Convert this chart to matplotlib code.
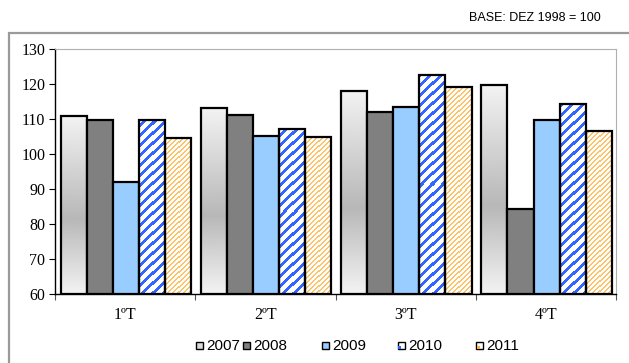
import numpy as np
import matplotlib
matplotlib.use("Agg")
import matplotlib.pyplot as plt
from matplotlib.patches import Rectangle

quarters = ["1ºT", "2ºT", "3ºT", "4ºT"]
years = ["2007", "2008", "2009", "2010", "2011"]
v2007 = [110.9, 113.1, 118.1, 119.6]
v2008 = [109.8, 111.1, 112.0, 84.3]
v2009 = [92.0, 105.2, 113.5, 109.7]
v2010 = [109.8, 107.1, 122.5, 114.2]
v2011 = [104.5, 105.0, 119.1, 106.5]
series = [v2007, v2008, v2009, v2010, v2011]
y_ticks = [60, 70, 80, 90, 100, 110, 120, 130]

serif = "Liberation Serif"
sans = "Liberation Sans"
plt.rcParams["font.family"] = [serif, "DejaVu Serif"]

W, H = 629, 363
fig = plt.figure(figsize=(W / 100, H / 100), dpi=100)

# outer chart frame (runs past the right/bottom edge of the image)
fig.patches.append(Rectangle((9 / W, -0.05), 625 / W, (H - 33 + 18) / H,
                             transform=fig.transFigure, fill=False,
                             edgecolor="#9a9a9a", linewidth=1.6))

ax = fig.add_axes([55 / W, (H - 294.3) / H, (616 - 55) / W, 245.3 / H])
ax.set_xlim(0, 4)
ax.set_ylim(60, 130)

ax.set_yticks(y_ticks)
ax.set_yticklabels([str(t) for t in y_ticks])
ax.set_xticks([0, 1, 2, 3, 4])
ax.set_xticklabels([])
ax.set_xticks([0.5, 1.5, 2.5, 3.5], minor=True)
ax.set_xticklabels(quarters, minor=True)
ax.tick_params(axis="both", which="both", labelsize=11.5)
ax.tick_params(axis="x", which="minor", length=0, pad=9)
ax.tick_params(axis="x", which="major", length=4, width=0.8, color="#555555")
ax.tick_params(axis="y", length=4, width=0.8, pad=3)
for s in ("top", "right"):
    ax.spines[s].set_color("#b0b0b0")
    ax.spines[s].set_linewidth(0.8)
for s in ("left", "bottom"):
    ax.spines[s].set_color("black")
    ax.spines[s].set_linewidth(1.0)

bar_w = 0.186
start = 0.04
px_per_x = (616 - 55) / 4.0
px_per_y = 245.3 / 70.0


def gradient_fill(x0, top):
    n = max(int(round((top - 60) * px_per_y)), 2)
    t = np.linspace(0, 1, n)[:, None]
    light, dark, mid = 0.95, 0.72, 0.58
    g = np.where(t < mid, light - (light - dark) * (t / mid),
                 dark + (light - dark) * ((t - mid) / (1 - mid)))
    img = np.repeat(g, 4, axis=1)
    ax.imshow(img, cmap="gray", vmin=0, vmax=1, aspect="auto",
              extent=(x0, x0 + bar_w, 60, top), origin="upper",
              interpolation="bilinear", zorder=2)


def stripe_fill(x0, top, color, period, width):
    nx = int(round(bar_w * px_per_x))
    ny = int(round((top - 60) * px_per_y))
    cols = np.arange(nx)[None, :]
    rows = np.arange(ny)[:, None]
    ox = int(round(x0 * px_per_x))
    oy = int(round((130 - top) * px_per_y))
    mask = ((cols + ox + rows + oy) % period) < width
    rgb = np.ones((ny, nx, 3))
    c = np.array(matplotlib.colors.to_rgb(color))
    rgb[mask] = c
    ax.imshow(rgb, aspect="auto", extent=(x0, x0 + bar_w, 60, top),
              origin="upper", interpolation="nearest", zorder=2)


for si, vals in enumerate(series):
    for qi, v in enumerate(vals):
        x0 = qi + start + si * bar_w
        if si == 0:
            gradient_fill(x0, v)
            fc = "none"
        elif si == 1:
            fc = "#808080"
        elif si == 2:
            fc = "#99ccff"
        elif si == 3:
            stripe_fill(x0, v, "#3366ff", 10, 4)
            fc = "none"
        else:
            stripe_fill(x0, v, "#ffc266", 5, 2)
            fc = "none"
        ax.add_patch(Rectangle((x0, 60), bar_w, v - 60, facecolor=fc,
                               edgecolor="black", linewidth=1.6, zorder=3))

ax.set_xlim(0, 4)
ax.set_ylim(60, 130)

# base note
fig.text(601 / W, 1 - 18 / H, "BASE: DEZ 1998 = 100", ha="right", va="center",
         fontfamily=sans, fontsize=9)

# legend
leg_x = [196, 243, 322, 398, 476]
leg_fill = ["#d8d8d8", "#808080", "#99ccff", "white", "white"]
for i, yr in enumerate(years):
    x = leg_x[i]
    fig.patches.append(Rectangle((x / W, (H - 349) / H), 7 / W, 7 / H,
                                 transform=fig.transFigure,
                                 facecolor=leg_fill[i], edgecolor="black",
                                 linewidth=1.0))
    if i == 3:
        fig.patches.append(Rectangle((x / W + 0.5 / W, (H - 348.5) / H), 3 / W, 3 / H,
                                     transform=fig.transFigure, facecolor="#3366ff",
                                     edgecolor="none"))
    if i == 4:
        fig.patches.append(Rectangle((x / W + 0.5 / W, (H - 348.5) / H), 3 / W, 3 / H,
                                     transform=fig.transFigure, facecolor="#ffb03a",
                                     edgecolor="none"))
    fig.text((x + 10) / W, 1 - 345.5 / H, yr, ha="left", va="center",
             fontfamily=sans, fontsize=11)

fig.savefig("out.png", dpi=100)
